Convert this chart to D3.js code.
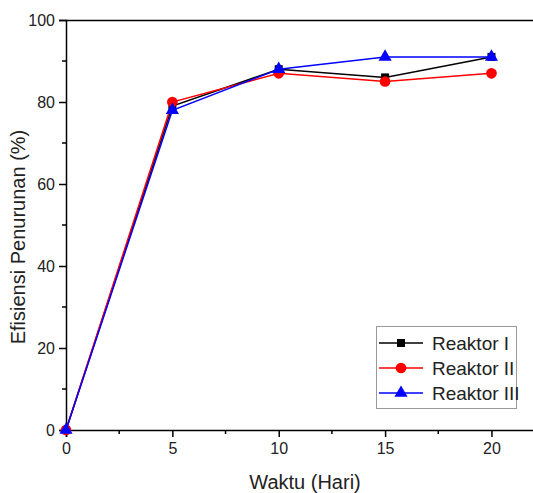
<!DOCTYPE html>
<html>
<head>
<meta charset="utf-8">
<script src="https://cdn.jsdelivr.net/npm/d3@7"></script>
<style>
  body { margin: 0; background: #fff; }
  svg { font-family: Arial, "Liberation Sans", sans-serif; }
</style>
</head>
<body>
<svg width="533" height="493"></svg>
<script>
const days = [0, 5, 10, 15, 20];
const reaktor1 = [0, 79, 88, 86, 91];
const reaktor2 = [0, 80, 87, 85, 87];
const reaktor3 = [0, 78, 88, 91, 91];
const seriesNames = ['Reaktor I', 'Reaktor II', 'Reaktor III'];
const xTicks = [0, 5, 10, 15, 20];
const yTicks = [0, 20, 40, 60, 80, 100];

const series = [
  { name: seriesNames[0], values: reaktor1, color: '#000', symbol: d3.symbolSquare, size: 64 },
  { name: seriesNames[1], values: reaktor2, color: '#f00', symbol: d3.symbolCircle, size: 90 },
  { name: seriesNames[2], values: reaktor3, color: '#00f', symbol: d3.symbolTriangle, size: 75 },
];

const svg = d3.select('svg');
const x = d3.scaleLinear().domain([0, 22]).range([66, 534]);
const y = d3.scaleLinear().domain([0, 100]).range([430, 20]);

// top frame line
svg.append('line')
  .attr('x1', 66).attr('x2', 534).attr('y1', 20.5).attr('y2', 20.5)
  .attr('stroke', '#000').attr('stroke-width', 1.5);

const xAxis = svg.append('g').attr('transform', 'translate(0,430)')
  .call(d3.axisBottom(x).tickValues(xTicks).tickSize(7).tickPadding(6));
svg.append('g').attr('transform', 'translate(0,430)')
  .selectAll('line').data([2.5, 7.5, 12.5, 17.5]).enter().append('line')
  .attr('x1', d => x(d)).attr('x2', d => x(d)).attr('y1', 0).attr('y2', 4)
  .attr('stroke', '#000').attr('stroke-width', 1.5);

const yAxis = svg.append('g').attr('transform', 'translate(66,0)')
  .call(d3.axisLeft(y).tickValues(yTicks).tickSize(7).tickPadding(4));
svg.append('g').attr('transform', 'translate(66,0)')
  .selectAll('line').data([10, 30, 50, 70, 90]).enter().append('line')
  .attr('y1', d => y(d)).attr('y2', d => y(d)).attr('x1', 0).attr('x2', -4)
  .attr('stroke', '#000').attr('stroke-width', 1.5);

[xAxis, yAxis].forEach(a => {
  a.select('.domain').attr('stroke-width', 1.5);
  a.selectAll('.tick line').attr('stroke-width', 1.5);
  a.selectAll('.tick text').attr('font-size', 16)
    .attr('font-family', 'Arial, "Liberation Sans", sans-serif').attr('fill', '#222');
});

const line = d3.line().x((d, i) => x(days[i])).y(d => y(d));

series.forEach(s => {
  svg.append('path').datum(s.values)
    .attr('d', line).attr('fill', 'none')
    .attr('stroke', s.color).attr('stroke-width', 1.5);
  svg.append('g').selectAll('path').data(s.values).enter().append('path')
    .attr('transform', (d, i) => `translate(${x(days[i])},${y(d)})`)
    .attr('d', d3.symbol().type(s.symbol).size(s.size))
    .attr('fill', s.color);
});

// axis titles
svg.append('text')
  .attr('x', 305).attr('y', 489)
  .attr('text-anchor', 'middle').attr('font-size', 20).attr('fill', '#222')
  .text('Waktu (Hari)');
svg.append('text')
  .attr('transform', 'translate(25,237) rotate(-90)')
  .attr('text-anchor', 'middle').attr('font-size', 20).attr('fill', '#222')
  .text('Efisiensi Penurunan (%)');

// legend
const legend = svg.append('g');
legend.append('rect')
  .attr('x', 376.5).attr('y', 326.5).attr('width', 140).attr('height', 82)
  .attr('fill', '#fff').attr('stroke', '#999').attr('stroke-width', 1);
series.forEach((s, i) => {
  const ly = 343 + i * 25;
  legend.append('line')
    .attr('x1', 379).attr('x2', 423).attr('y1', ly).attr('y2', ly)
    .attr('stroke', s.color).attr('stroke-width', 1.5);
  legend.append('path')
    .attr('transform', `translate(401,${ly})`)
    .attr('d', d3.symbol().type(s.symbol).size(s.size))
    .attr('fill', s.color);
  legend.append('text')
    .attr('x', 432).attr('y', ly + 7)
    .attr('font-size', 19).attr('fill', '#222')
    .text(s.name);
});
</script>
</body>
</html>
